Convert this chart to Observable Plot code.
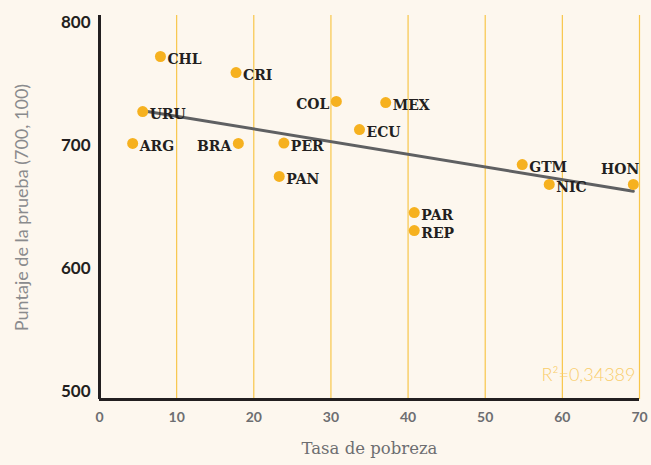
<!DOCTYPE html>
<html>
<head>
<meta charset="utf-8">
<script src="https://cdn.jsdelivr.net/npm/d3@7"></script>
<script src="https://cdn.jsdelivr.net/npm/@observablehq/plot@0.6"></script>
<style>
  html, body { margin: 0; padding: 0; background: #fdf7ee; }
  #chart svg { display: block; }
</style>
</head>
<body>
<div id="chart"></div>
<script>
const countries = ["CHL","CRI","URU","ARG","BRA","PER","PAN","COL","MEX","ECU","PAR","REP","GTM","NIC","HON"];
const poverty   = [7.9, 17.7, 5.6, 4.3, 18.0, 23.9, 23.3, 30.7, 37.1, 33.7, 40.8, 40.8, 54.8, 58.3, 69.2];
const score     = [772.4, 759.4, 727.7, 701.8, 701.8, 702.1, 675.0, 735.9, 735.0, 713.1, 645.7, 631.1, 684.7, 668.5, 668.5];
const labelSide = ["right","right","right","right","left","right","right","left","right","right","right","right","right","right","above"];
const trendX = [5.4, 69.2];
const trendY = [728.6, 663.0];
const xTicks = [0, 10, 20, 30, 40, 50, 60, 70];
const yTicks = [500, 600, 700, 800];
const gridX = [10, 20, 30, 40, 50, 60, 70];
const xTitle = "Tasa de pobreza";
const yTitle = "Puntaje de la prueba (700, 100)";
const r2Text = "R²=0,34389";

const data = countries.map((c, i) => ({country: c, x: poverty[i], y: score[i], side: labelSide[i]}));
const trend = trendX.map((x, i) => ({x, y: trendY[i]}));

const labelStyle = {fontFamily: "DejaVu Serif", fontWeight: "bold", fontSize: 14, fill: "#231f20"};

const chart = Plot.plot({
  width: 651,
  height: 465,
  marginTop: 15,
  marginBottom: 66,
  marginLeft: 99,
  marginRight: 12,
  style: {background: "#fdf7ee", fontFamily: "Lato"},
  x: {domain: [0, 70]},
  y: {domain: [493.9, 805.7]},
  marks: [
    Plot.ruleX(gridX, {stroke: "#f8c64a", strokeWidth: 1.2}),
    Plot.axisX({ticks: xTicks, tickSize: 0, tickPadding: 13, label: null, fontSize: 14, fontWeight: "bold", fill: "#6d6e71", fontFamily: "Lato"}),
    Plot.axisY({ticks: yTicks, tickSize: 0, tickPadding: 9, label: null, fontSize: 17, fontWeight: "bold", fill: "#231f20", fontFamily: "Lato"}),
    Plot.line(trend, {x: "x", y: "y", stroke: "#5f6062", strokeWidth: 3}),
    Plot.dot(data, {x: "x", y: "y", r: 5.5, fill: "#f6b11f"}),
    Plot.text(data.filter(d => d.side === "right"), {x: "x", y: "y", text: "country", textAnchor: "start", dx: 7, dy: 3, ...labelStyle}),
    Plot.text(data.filter(d => d.side === "left"), {x: "x", y: "y", text: "country", textAnchor: "end", dx: -7, dy: 3, ...labelStyle}),
    Plot.text(data.filter(d => d.side === "above"), {x: "x", y: "y", text: "country", textAnchor: "end", dx: 6, dy: -15, ...labelStyle}),
    Plot.ruleX([0], {stroke: "#231f20", strokeWidth: 3}),
    Plot.ruleY([493.9], {stroke: "#231f20", strokeWidth: 3}),
    Plot.text([yTitle], {frameAnchor: "left", textAnchor: "middle", dx: -77, rotate: -90, fontSize: 18, fill: "#8a8b8d", fontFamily: "Lato"}),
    Plot.text([xTitle], {frameAnchor: "bottom", textAnchor: "middle", dy: 54, fontSize: 16.5, fill: "#6d6e71", fontFamily: "DejaVu Serif"}),
    Plot.text([r2Text], {frameAnchor: "bottom-right", textAnchor: "end", dx: -4, dy: -19, fontSize: 18, fontWeight: 300, fill: "#f9cd6b", fontFamily: "Lato"})
  ]
});
document.getElementById("chart").append(chart);
</script>
</body>
</html>
